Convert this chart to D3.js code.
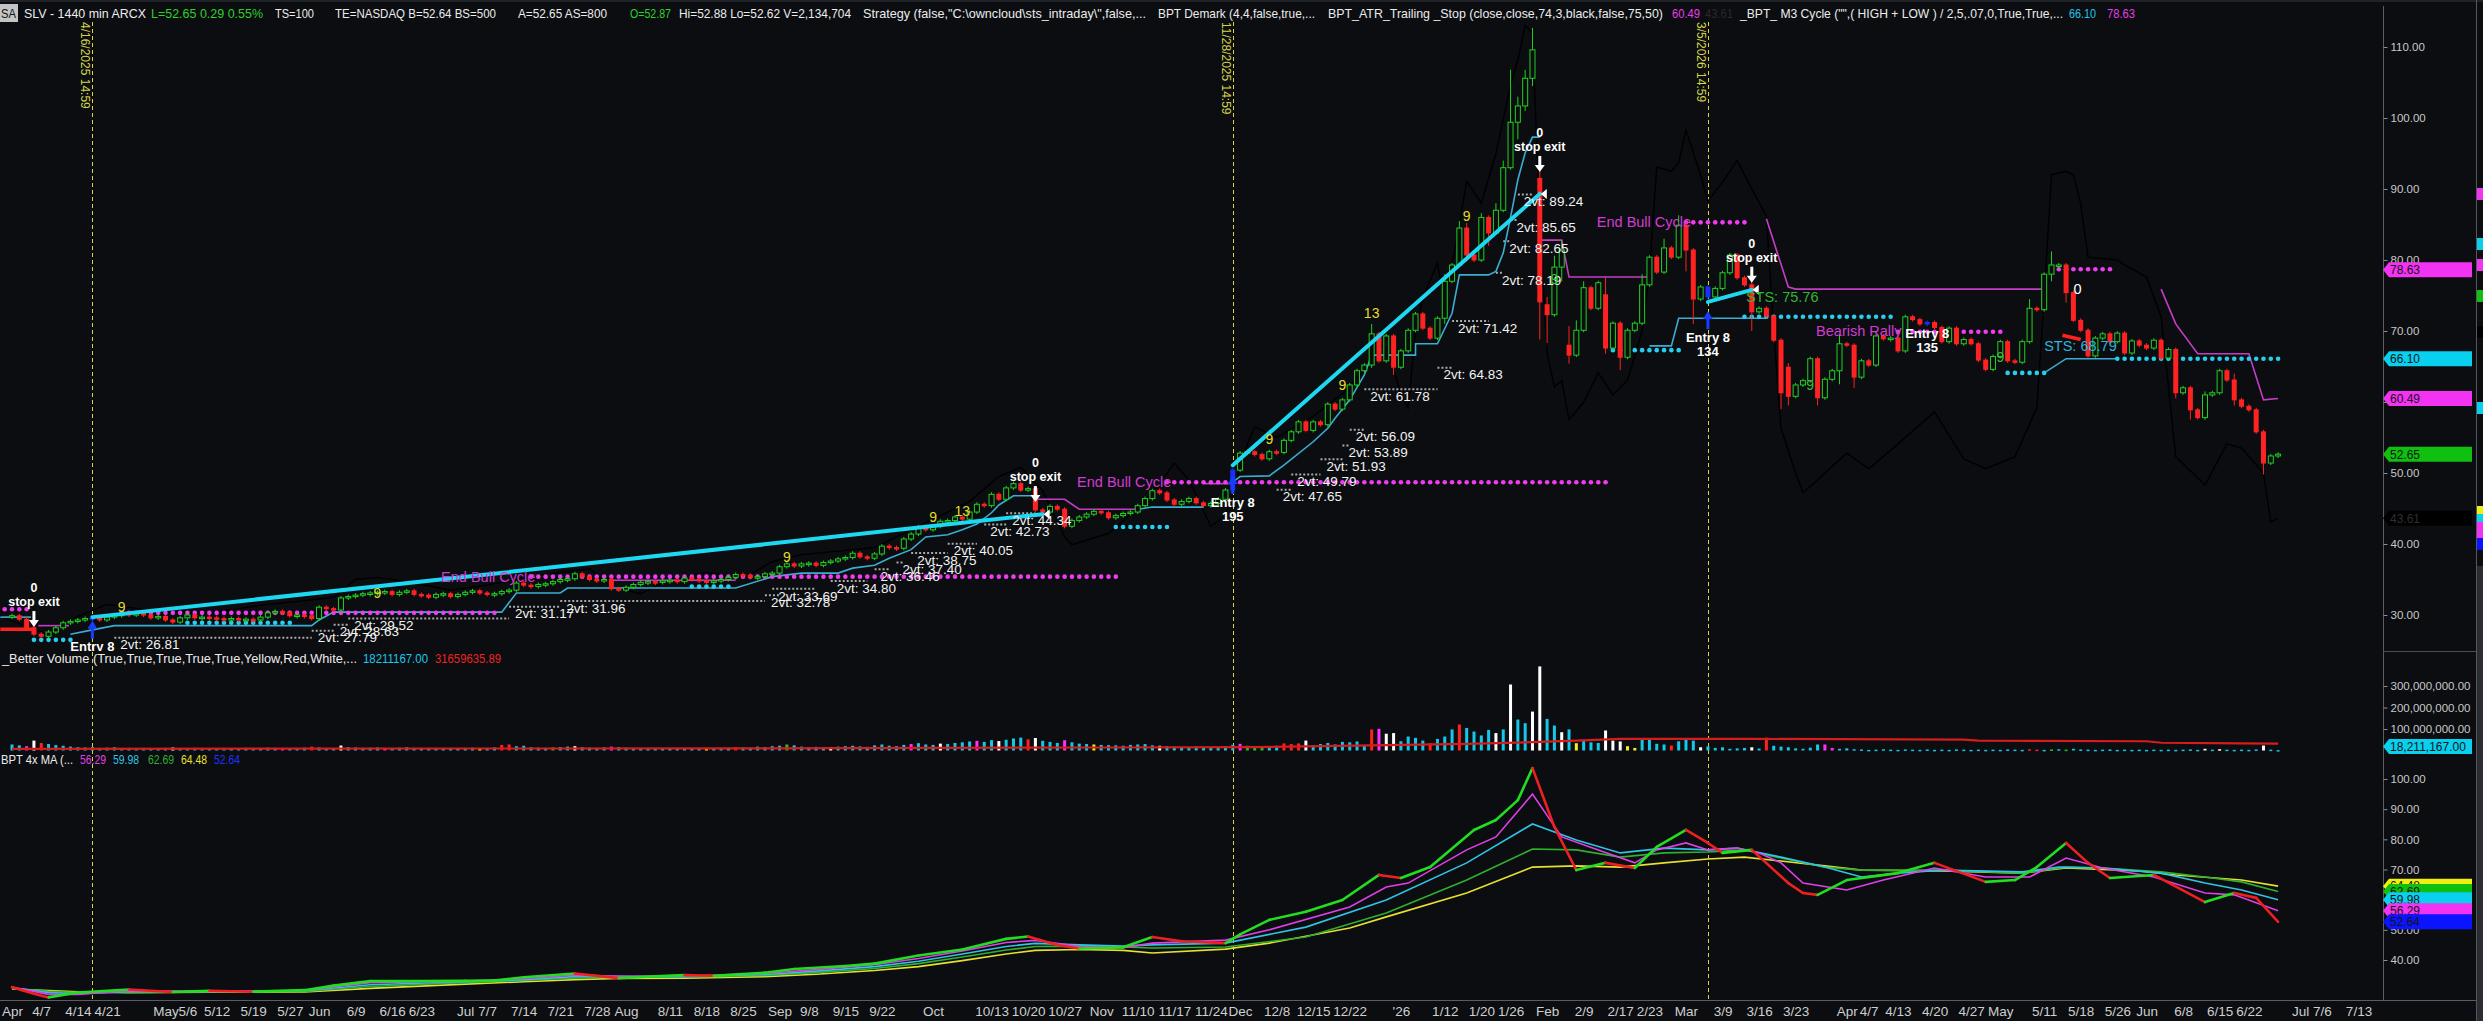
<!DOCTYPE html>
<html><head><meta charset="utf-8">
<script src="https://cdn.jsdelivr.net/npm/d3@7"></script>
<style>
html,body{margin:0;padding:0;background:#0b0d10;overflow:hidden}
svg{display:block}
text{font-family:"Liberation Sans Narrow","Arial Narrow","Liberation Sans",Arial,sans-serif}
</style></head><body>
<svg id="chart" width="2483" height="1021"></svg>
<script>
// ---- data (daily bars, index 0 = 2025-04-01) ----
const closes = [
 29.9,29.4,28.2,27.3,27.0,27.6,28.2,28.9,29.1,29.3,
 29.5,29.6,29.3,29.7,29.9,30.2,30.1,30.2,30.0,29.6,
 29.8,29.3,29.0,29.6,30.0,29.6,29.7,29.6,29.5,29.3,
 29.5,29.3,29.4,29.3,29.7,30.3,30.5,30.4,29.9,30.0,
 29.9,29.5,31.1,30.9,30.7,32.4,32.6,32.8,33.0,33.1,
 33.2,33.3,32.9,33.2,33.4,32.9,32.8,32.5,32.9,33.0,
 32.6,32.9,33.2,33.4,33.1,33.0,33.0,33.3,33.5,34.5,
 34.2,34.0,34.3,34.4,34.7,35.0,35.1,35.8,35.4,35.0,
 34.8,35.0,33.7,33.5,33.9,34.3,34.6,34.7,34.6,34.8,
 34.9,34.7,35.2,35.0,34.8,34.6,34.8,35.0,35.3,35.7,
 35.6,35.3,35.4,35.8,35.9,36.8,37.2,36.9,37.2,37.3,
 37.0,37.4,37.6,37.9,38.1,38.7,38.2,38.0,38.6,39.7,
 39.5,39.4,40.7,41.4,42.4,42.0,42.5,43.2,43.3,43.8,
 43.5,44.5,45.6,45.4,47.0,46.3,47.9,48.5,47.6,47.8,
 44.8,44.5,45.3,44.9,42.5,43.3,43.8,44.2,44.6,44.4,
 43.7,44.0,44.3,44.5,45.4,46.4,47.5,47.2,46.2,45.6,
 46.0,46.4,45.8,45.4,45.7,46.3,47.6,50.4,52.8,53.0,
 52.6,52.0,53.0,52.9,54.6,55.8,57.2,56.0,57.2,56.8,
 59.7,59.0,60.3,62.4,64.4,65.2,69.6,65.8,69.3,64.9,
 67.2,70.1,72.4,70.4,69.0,71.8,77.0,79.3,84.5,80.7,
 80.0,86.0,83.8,87.0,93.0,99.4,101.7,105.6,109.6,74.1,
 72.3,79.0,81.4,66.6,70.1,76.1,73.2,76.8,67.6,71.1,
 66.3,70.1,71.1,76.5,80.4,78.3,81.7,80.4,84.9,81.4,
 74.5,76.2,74.8,76.0,78.2,80.7,77.5,76.5,72.7,73.2,
 72.1,68.7,61.3,60.8,62.4,63.0,66.1,60.6,63.2,64.4,
 68.2,68.0,63.5,65.8,65.2,69.3,68.9,69.0,67.2,72.0,
 71.6,71.0,71.2,70.5,68.5,70.4,68.2,68.8,68.2,65.9,
 64.6,66.4,68.5,65.8,65.6,68.5,73.2,73.0,78.0,79.3,
 79.3,75.4,71.5,70.1,66.5,69.0,69.6,68.5,69.7,66.9,
 68.6,68.0,67.6,68.7,66.2,67.4,61.3,62.0,58.9,57.8,
 61.0,61.3,64.4,63.1,60.3,59.4,58.9,55.8,51.4,52.4,
 52.65
];
// bars whose open gapped away from the prior close
const openGaps = {209:91.5, 210:73.7, 213:68.0, 218:75.1, 243:64.9};
// bars with visible wicks: [high, low]
const hiLo = {186:[71.0,64.8],189:[67.0,63.8],196:[78.0,71.0],198:[85.5,80.0],199:[85.2,79.8],
  201:[86.6,80.5],202:[85.5,82.0],203:[88.0,84.0],204:[94.0,86.8],205:[106.8,96.5],206:[103.0,97.0],
  207:[106.8,101.0],208:[112.7,104.5],209:[92.6,68.8],210:[74.8,68.3],211:[80.6,72.5],212:[82.8,77.0],
  213:[70.7,65.4],214:[71.5,66.5],215:[77.0,71.5],218:[77.5,66.8],220:[68.0,64.5],223:[78.0,71.0],
  226:[83.0,79.5],228:[86.3,80.5],229:[82.6,78.4],230:[78.5,71.0],238:[77.0,70.0],242:[69.0,59.0],
  243:[65.5,59.5],247:[62.5,59.5],250:[69.5,62.5],252:[66.0,62.0],276:[74.5,71.5],279:[81.2,77.0],
  281:[77.5,74.0],296:[67.5,60.5],298:[61.5,57.5],300:[61.5,57.5],304:[64.0,59.5],308:[55.0,49.8]};
const entryBars = [11,167,232,262];

const volumesM = [
 28,24,20,46,35,30,25,22,18,15, 14,16,12,13,15,11,12,10,12,11,
 10,12,14,11,10,12,11,10,9,10, 11,10,12,10,11,13,12,11,10,12,
 13,18,14,12,11,23,15,14,12,13, 14,12,11,13,15,12,11,10,12,11,
 10,11,12,13,11,12,14,26,28,20, 22,15,13,12,14,16,18,20,15,13,
 12,14,18,16,13,12,10,11,9,10, 12,11,10,9,10,11,10,12,13,15,
 14,13,18,16,20,22,28,24,18,16, 17,15,16,18,20,22,19,17,24,28,
 22,20,26,30,34,28,26,32,30,35, 38,42,45,40,48,44,50,56,60,52,
 58,45,40,35,48,38,32,30,28,26, 25,24,22,26,28,30,24,22,20,18,
 17,16,18,15,14,16,20,26,31,22, 18,15,20,22,33,30,33,46,25,30,
 35,28,40,38,42,23,98,101,78,81, 43,65,59,46,34,54,65,98,121,105,
 88,70,96,81,98,307,144,127,181,391, 147,116,85,98,34,46,38,35,93,46,
 42,20,12,54,57,31,28,23,43,57, 46,15,19,12,15,8,10,12,15,9,
 60,22,18,15,10,8,13,28,28,12, 8,10,6,5,3,4,6,4,3,5,
 4,3,5,3,4,3,5,4,3,4, 3,4,3,5,4,3,6,4,3,5,
 6,4,8,5,4,3,4,5,3,4, 3,4,3,4,3,4,3,4,5,3,
 8,4,6,4,3,4,3,5,23,4, 2
];
const volumeColorCodes = [
 "ccmwrccccc","cccccccccc","ccwccccccc","cccccccmcc","crcccwcccc","cmcccccccc",
 "ccccyccrrc","ccccgccwcc","ccmccccccc","cccccycccr","ccccccgccc","ccwccccccc",
 "cccmcccwcc","ccmccwcccr","wcccmcccyc","cccccccwcc","ccccccccmg","ggccrrrwcc",
 "ccccccrmww","ccccrcccrc","cccwcwccww","ccwcycccww","wyyccccrcc","cwccccccwc",
 "rcccccccmm","cccccccccc","cccccccccc","ccccccrrcg","cgcccccccc","cccccccccc",
 "wcwcccccwc","c"
].join("");
const volumeAvgM = [[0,8],[100,10],[150,14],[170,16],[177,19],[199,31],[208,39],[214,46],[220,54],
  [238,54],[267,51],[269,46],[292,43],[294,36],[305,33],[310,31.66]];

// 4x MA panel lines [bar, value]
const maFast = [[0,31.0],[3,28.8],[5,27.6],[9,29.2],[16,30.2],[22,29.4],[27,29.8],[33,29.5],[40,30.0],[44,31.5],
 [49,33.0],[55,33.0],[62,33.1],[66,33.2],[70,34.3],[77,35.5],[83,34.0],[88,34.6],[92,35.0],[96,34.8],[103,35.8],
 [107,37.0],[114,38.0],[118,38.8],[124,41.5],[130,43.5],[136,47.0],[139,47.8],[143,45.0],[146,43.8],[152,44.2],
 [156,47.6],[160,46.2],[166,45.6],[168,48.5],[172,53.3],[177,56.0],[182,59.9],[187,68.2],[190,67.2],[194,70.8],
 [200,83.1],[203,86.4],[206,93.0],[208,103.6],[211,84.1],[214,69.8],[218,72.2],[222,70.5],[225,77.5],[229,83.1],
 [232,78.8],[234,75.5],[238,76.5],[243,65.5],[245,62.2],[247,61.6],[251,66.5],[258,68.8],[263,72.2],[270,65.9],
 [274,66.5],[277,70.8],[281,78.8],[284,72.2],[287,67.2],[293,68.2],[300,59.2],[304,62.2],[307,60.6],[310,52.64]];
const maMagenta = [[0,31.0],[5,28.6],[9,28.6],[16,29.8],[27,29.6],[40,29.9],[49,32.5],[62,33.0],[70,33.8],[77,35.0],
 [83,34.6],[92,34.7],[103,35.5],[110,36.8],[118,38.4],[124,40.5],[130,43.0],[136,45.8],[140,46.5],[146,44.5],
 [152,44.1],[156,45.6],[166,46.6],[172,50.0],[183,57.6],[188,64.2],[191,65.5],[199,76.5],[203,80.8],[208,95.0],
 [212,80.8],[217,76.5],[222,72.2],[225,76.5],[229,78.8],[232,76.5],[236,77.1],[239,75.5],[242,72.2],[245,65.5],
 [251,63.2],[256,66.5],[263,70.5],[270,67.5],[276,67.5],[281,73.8],[286,70.5],[293,67.5],[300,62.2],[304,61.6],[310,56.29]];
const maCyan = [[0,30.8],[5,29.2],[9,28.8],[16,29.5],[27,29.6],[40,29.8],[49,31.8],[62,32.8],[70,33.5],[77,34.5],
 [83,34.6],[92,34.5],[103,35.2],[110,36.3],[118,37.8],[124,39.6],[130,42.0],[136,44.5],[140,45.5],[146,45.0],
 [152,44.6],[156,45.0],[166,45.6],[177,50.9],[188,59.9],[199,72.2],[208,85.1],[214,79.8],[220,75.5],[226,77.1],
 [232,76.5],[236,77.1],[242,74.1],[248,70.8],[253,67.5],[258,68.8],[264,69.8],[275,69.2],[280,70.8],[286,70.5],
 [294,68.8],[300,65.5],[305,63.2],[310,59.98]];
const maGreen = [[0,30.6],[5,29.6],[9,29.2],[16,29.3],[27,29.5],[40,29.6],[49,31.2],[62,32.5],[70,33.2],[77,34.0],
 [83,34.3],[92,34.3],[103,34.9],[110,35.8],[118,37.2],[124,38.8],[130,41.0],[136,43.3],[140,44.5],[146,44.6],
 [152,44.3],[156,44.0],[166,44.3],[177,47.6],[188,55.6],[199,66.5],[208,76.8],[214,76.5],[220,74.1],[226,75.5],
 [232,75.8],[237,76.5],[242,73.8],[248,70.8],[253,69.8],[264,69.8],[275,68.8],[281,70.8],[286,70.5],[294,69.2],
 [300,67.5],[305,65.9],[310,62.69]];
const maYellow = [[0,30.4],[5,29.9],[9,29.5],[16,29.2],[27,29.3],[40,29.4],[49,30.6],[62,32.0],[70,32.8],[77,33.5],
 [83,33.9],[92,34.0],[103,34.5],[110,35.3],[118,36.5],[124,37.8],[130,39.8],[136,42.0],[140,43.2],[146,43.5],
 [152,43.2],[156,42.3],[166,43.6],[172,45.6],[183,50.6],[188,54.3],[199,62.2],[208,70.8],[214,71.2],[220,70.8],
 [226,72.2],[232,73.5],[237,74.1],[242,72.8],[248,71.2],[253,69.8],[264,69.5],[275,68.8],[281,70.5],[291,69.5],
 [296,68.2],[305,66.5],[310,64.48]];

// M3 cycle trace (black) [bar, value]
const cycleLine = [[-2,30.0],[5,27.2],[9,29.8],[13,31.5],[20,30.5],[27,30.3],[35,31.5],[40,32.0],[44,32.5],[47,35.0],
 [50,35.3],[55,34.5],[60,33.5],[65,34.2],[70,35.2],[75,36.0],[79,36.5],[82,34.0],[86,33.0],[90,35.0],[95,36.0],
 [100,35.2],[104,37.5],[108,38.5],[113,39.0],[118,39.5],[122,41.5],[127,44.0],[131,46.0],[135,49.5],[138,50.8],
 [141,47.5],[144,41.0],[145,39.9],[150,41.5],[154,45.0],[157,48.5],[159,51.4],[161,49.0],[164,42.5],[166,44.0],
 [169,54.0],[170,56.5],[173,55.0],[178,58.0],[183,62.0],[186,66.0],[188,68.5],[190,61.0],[191,59.2],[192,70.0],
 [193,74.6],[195,79.6],[196,74.0],[198,85.0],[199,91.1],[201,88.0],[203,95.0],[205,104.6],[206,108.2],[207,113.0],
 [208,112.0],[209,85.0],[210,66.9],[211,62.1],[212,63.0],[213,57.5],[215,60.0],[217,64.1],[219,61.0],[221,63.1],
 [223,70.0],[224,78.2],[225,93.1],[227,92.5],[228,93.7],[229,98.3],[231,92.0],[232,88.3],[234,91.0],[236,94.0],
 [238,90.0],[240,86.2],[241,70.0],[242,56.3],[244,50.0],[245,47.2],[247,49.0],[248,50.0],[251,52.8],[254,50.6],
 [258,54.1],[263,58.6],[267,52.0],[270,50.6],[274,52.3],[277,59.2],[278,75.0],[279,92.0],[281,92.5],[282,92.0],
 [283,87.9],[284,80.4],[288,80.0],[289,79.3],[292,77.6],[294,72.0],[296,52.3],[300,48.3],[303,54.1],[305,53.5],
 [308,50.0],[309,43.1],[310,43.61]];

// trailing stop steps [bar, value]
const stopUp = [
 [[-1.6,29.7],[2.6,29.7]],
 [[8,27.3],[11,27.9],[14,28.5],[41,28.5],[42,29.3],[44,30.4],[67,30.4],[69,33.1],[75,33.1],[76,33.8],[99,33.8],
  [104,35.4],[108,35.9],[113,35.9],[115,36.6],[118,37.0],[120,38.0],[123,39.2],[125,41.0],[128,41.3],[130,42.0],
  [132,42.8],[134,44.4],[135,45.5],[137,46.8],[140,46.8]],
 [[154,44.9],[156,45.2],[163,45.2]],
 [[167,48.7],[168,49.5],[172,49.6],[174,51.1],[178,54.4],[180,56.3],[181,57.7],[183,60.3],[185,63.8],[186,66.6],
  [192,66.6],[192,68.2],[195,68.2],[197,72.5],[198,77.9],[202,77.9],[203,78.4],[204,81.0],[205,86.0],[206,91.3],
  [207,95.1],[208,97.3],[209,97.3]],
 [[224,67.9],[227,67.9],[228,71.8],[240,71.8]],
 [[278,64.1],[281,66.1],[288,66.1]]
];
const stopDown = [
 [[3.6,28.5],[7.8,28.5]],
 [[82,34.9],[99,34.9]],
 [[140,46.3],[144,46.3],[146,44.9],[154,44.9]],
 [[163,48.5],[167,48.5]],
 [[209,82.8],[212,82.8],[213,77.6],[224,77.6]],
 [[240,85.8],[243,76.2],[244,75.9],[278,75.9]],
 [[294,75.9],[296,71.0],[299,66.8],[306,66.8],[308,60.3],[310,60.49]]
];
// dotted levels [value, fromBar, toBar]
const magentaDots = [[30.8,-1,2],[30.3,15,66],[35.4,71,151],[48.7,158,218],[85.3,229,237],[69.9,258,272],[78.7,279,287]];
const cyanDots = [[26.5,3,8],[28.9,24,38],[34.0,93,98],[42.4,151,158],[67.3,219,228],[72.0,237,257],[64.1,273,278],[66.1,288,310]];
// "2vt" targets [value, fromBar, toBar]
const targets = [[26.81,14,41],[27.79,41,44],[28.63,44,46],[29.52,46,68],[31.17,68,75],[31.96,75,103],[32.78,103,105],
 [33.69,104,110],[34.80,112,117],[36.46,118,120],[37.40,121,122],[38.75,123,128],[40.05,128,132],[42.73,133,136],
 [44.34,136,140],[47.65,173,175],[49.79,175,179],[51.93,179,182],[53.89,182,183],[56.09,183,185],[61.78,185,195],
 [64.83,195,197],[71.42,197,202],[78.19,203,204],[82.65,204,205],[85.65,205,206],[89.24,206,208]];
// trend lines [bar0, v0, bar1, v1]
const trendLines = [[11,29.7,141,44.2],[167,51.1,209,89.3],[232,74.1,238,75.8]];
const shortLines = [[-1.6,28.0,3,28.0],[280.5,69.4,283,68.8]];
// signals
const entries = [[11,28.9,"",false],[167,49.3,"195",true],[232,72.5,"134",true],[262,73.0,"135",false]];
const exits = [[3,28.3],[140,45.9],[209,92.4],[238,76.8]];
const counts = [[15,31.1,"9","y"],[50,33.1,"9","y"],[106,38.2,"9","y"],[126,43.8,"9","y"],[130,44.6,"13","y"],
 [172,54.8,"9","y"],[182,62.4,"9","y"],[186,72.5,"13","y"],[199,86.2,"9","y"],[211,77.3,"9","g"],
 [246,62.4,"9","g"],[272,66.3,"9","g"]];
const notes = [[58.7,35.4,"End Bull Cycle","#d23cd2"],[145.7,48.7,"End Bull Cycle","#d23cd2"],
 [216.8,85.4,"End Bull Cycle","#d23cd2"],[246.8,70.0,"Bearish Rally","#d23cd2"],
 [237.2,74.8,"STS: 75.76","#34b434"],[278,67.9,"STS: 68.79","#2cb6dc"],[282,75.9,"0","#ffffff"]];
const eventLines = [[11,"4/16/2025 14:59"],[167,"11/28/2025 14:59"],[232,"3/5/2026 14:59"]];

const priceTicks = [30,40,50,60,70,80,90,100,110];
const volumeTicks = [100e6,200e6,300e6];
const maTicks = [40,50,60,70,80,90,100];
const priceMarkers = [[78.63,"#f233f2"],[66.10,"#08d0ee"],[60.49,"#f233f2"],[52.65,"#10c010"],[43.61,"#000000"]];
const volumeMarkers = [[18211167,"#08d0ee"]];
const maMarkers = [[64.48,"#f0f010"],[62.69,"#10c010"],[59.98,"#08d0ee"],[56.29,"#f233f2"],[52.64,"#0a14ff"]];

const xTickLabels = ["Apr","4/7","4/14","4/21","May","5/6","5/12","5/19","5/27","Jun","6/9","6/16","6/23","Jul","7/7",
 "7/14","7/21","7/28","Aug","8/11","8/18","8/25","Sep","9/8","9/15","9/22","Oct","10/13","10/20","10/27","Nov","11/10",
 "11/17","11/24","Dec","12/8","12/15","12/22","'26","1/12","1/20","1/26","Feb","2/9","2/17","2/23","Mar","3/9","3/16",
 "3/23","Apr","4/7","4/13","4/20","4/27","May","5/11","5/18","5/26","Jun","6/8","6/15","6/22","Jul","7/6","7/13"];
const xTickDates = ["2025-04-01","2025-04-07","2025-04-14","2025-04-21","2025-05-01","2025-05-06","2025-05-12",
 "2025-05-19","2025-05-27","2025-06-02","2025-06-09","2025-06-16","2025-06-23","2025-07-01","2025-07-07","2025-07-14",
 "2025-07-21","2025-07-28","2025-08-01","2025-08-11","2025-08-18","2025-08-25","2025-09-02","2025-09-08","2025-09-15",
 "2025-09-22","2025-10-01","2025-10-13","2025-10-20","2025-10-27","2025-11-03","2025-11-10","2025-11-17","2025-11-24",
 "2025-12-01","2025-12-08","2025-12-15","2025-12-22","2026-01-02","2026-01-12","2026-01-20","2026-01-26","2026-02-02",
 "2026-02-09","2026-02-17","2026-02-23","2026-03-02","2026-03-09","2026-03-16","2026-03-23","2026-04-01","2026-04-07",
 "2026-04-13","2026-04-20","2026-04-27","2026-05-01","2026-05-11","2026-05-18","2026-05-26","2026-06-01","2026-06-08",
 "2026-06-15","2026-06-22","2026-07-01","2026-07-06","2026-07-13"];
const holidays = ["2025-04-18","2025-05-26","2025-06-19","2025-07-04","2025-09-01","2025-11-27","2025-12-25",
 "2026-01-01","2026-01-19","2026-02-16","2026-04-03","2026-05-25","2026-06-19"];

// ---- helpers ----
function barIndex(dateStr) {
  const start = Date.UTC(2025, 3, 1), end = Date.parse(dateStr + "T00:00:00Z");
  let n = 0;
  for (let t = start; t < end; t += 864e5) {
    const d = new Date(t), wd = d.getUTCDay();
    if (wd !== 0 && wd !== 6 && !holidays.includes(d.toISOString().slice(0, 10))) n++;
  }
  return n;
}

const W = 2483, H = 1021, AXIS_X = 2383, BG = "#0b0d10";
const svg = d3.select("#chart");
svg.append("rect").attr("width", W).attr("height", H).attr("fill", BG);
svg.append("rect").attr("width", W).attr("height", 2).attr("fill", "#202328");

const x = d3.scaleLinear().domain([0, 310]).range([12, 12 + 310 * 7.31]);
const yP = d3.scaleLinear().domain([30, 110]).range([615, 47]);
const yV = d3.scaleLinear().domain([0, 300e6]).range([750.5, 686]);
const yM = d3.scaleLinear().domain([40, 100]).range([960, 779]);

const defs = svg.append("defs");
function clip(id, y0, y1) {
  defs.append("clipPath").attr("id", id).append("rect").attr("x", 0).attr("y", y0).attr("width", AXIS_X).attr("height", y1 - y0);
}
clip("cp", 24, 651); clip("cv", 651, 755); clip("cm", 755, 1000);

// ---- event lines ----
const ev = svg.append("g");
eventLines.forEach(([i, lbl]) => {
  const xx = Math.round(x(i)) + 0.5;
  ev.append("line").attr("x1", xx).attr("x2", xx).attr("y1", 22).attr("y2", 1000)
    .attr("stroke", "#d8d83c").attr("stroke-width", 1).attr("stroke-dasharray", "4,3");
  ev.append("text").attr("transform", `translate(${xx - 12},22) rotate(90)`)
    .attr("fill", "#d4d44a").attr("font-size", 12).attr("font-family", "Liberation Sans, sans-serif").text(lbl);
});

// ---- price panel ----
const gp = svg.append("g").attr("clip-path", "url(#cp)");
const lineP = d3.line().x(d => x(d[0])).y(d => yP(d[1]));

gp.append("path").attr("d", lineP(cycleLine)).attr("fill", "none").attr("stroke", "#000").attr("stroke-width", 1.4);

targets.forEach(([v, a, b]) => {
  gp.append("line").attr("x1", x(a)).attr("x2", x(b)).attr("y1", yP(v)).attr("y2", yP(v))
    .attr("stroke", "#a9a9a9").attr("stroke-width", 2).attr("stroke-dasharray", "2,2");
});
stopUp.forEach(seg => gp.append("path").attr("d", lineP(seg)).attr("fill", "none").attr("stroke", "#3aaed2").attr("stroke-width", 1.6));
stopDown.forEach(seg => gp.append("path").attr("d", lineP(seg)).attr("fill", "none").attr("stroke", "#c43ec4").attr("stroke-width", 1.6));

function dots(list, color) {
  list.forEach(([v, a, b]) => {
    gp.selectAll(null).data(d3.range(a, b + 1)).enter().append("circle")
      .attr("cx", d => x(d)).attr("cy", yP(v)).attr("r", 2.3).attr("fill", color);
  });
}
dots(magentaDots, "#f03cf0");
dots(cyanDots, "#26cfee");

// candles
const candles = closes.map((c, i) => {
  const o = openGaps[i] !== undefined ? openGaps[i] : (i ? closes[i - 1] : c);
  const hl = hiLo[i];
  return {i, o, c, h: hl ? hl[0] : Math.max(o, c), l: hl ? hl[1] : Math.min(o, c)};
});
const cg = gp.append("g");
candles.forEach(d => {
  const up = d.c >= d.o;
  const col = entryBars.includes(d.i) ? "#1830ff" : (up ? "#22d022" : "#ff2222");
  const cx = x(d.i);
  const top = yP(Math.max(d.o, d.c)), bot = yP(Math.min(d.o, d.c));
  const bh = Math.max(bot - top, 1.5);
  cg.append("line").attr("x1", cx).attr("x2", cx)
    .attr("y1", Math.min(yP(d.h), top - 2)).attr("y2", Math.max(yP(d.l), top + bh + 2))
    .attr("stroke", col).attr("stroke-width", 1);
  if (up && !entryBars.includes(d.i)) {
    cg.append("rect").attr("x", cx - 2.5).attr("y", top).attr("width", 5).attr("height", bh)
      .attr("fill", BG).attr("stroke", col).attr("stroke-width", 1);
  } else {
    cg.append("rect").attr("x", cx - 2.5).attr("y", top - 0.5).attr("width", 5).attr("height", bh + 1).attr("fill", col);
  }
});

trendLines.forEach(([a, v0, b, v1]) => {
  gp.append("line").attr("x1", x(a)).attr("y1", yP(v0)).attr("x2", x(b)).attr("y2", yP(v1))
    .attr("stroke", "#1ed8f2").attr("stroke-width", 4).attr("stroke-linecap", "round");
  gp.append("path").attr("d", `M${x(b) + 1},${yP(v1)} l6,-5 l0,10 z`).attr("fill", "#fff");
});
shortLines.forEach(([a, v0, b, v1]) => {
  gp.append("line").attr("x1", x(a)).attr("y1", yP(v0)).attr("x2", x(b)).attr("y2", yP(v1))
    .attr("stroke", "#ff2020").attr("stroke-width", 3.5);
});

// text overlays
const tf = "Liberation Sans, Arial, sans-serif";
targets.forEach(([v, a]) => {
  gp.append("text").attr("x", x(a) + 6).attr("y", yP(v) + 7).attr("dy", "0.35em")
    .attr("fill", "#f2f2f2").attr("font-size", 13.5).attr("font-family", tf).text("2vt: " + v.toFixed(2));
});
counts.forEach(([i, v, t, c]) => {
  gp.append("text").attr("x", x(i)).attr("y", yP(v)).attr("dy", "0.35em").attr("text-anchor", "middle")
    .attr("fill", c === "y" ? "#e6dc28" : "#34c034").attr("font-size", 14).attr("font-family", tf).text(t);
});
notes.forEach(([i, v, t, c]) => {
  gp.append("text").attr("x", x(i)).attr("y", yP(v)).attr("dy", "0.35em")
    .attr("fill", c).attr("font-size", 14.5).attr("font-family", tf).text(t);
});
entries.forEach(([i, v, n, arrow]) => {
  const cx = x(i), ty = yP(v);
  if (arrow || i === 11) {
    gp.append("line").attr("x1", cx).attr("x2", cx).attr("y1", ty + 4).attr("y2", ty + 16).attr("stroke", "#1a3cff").attr("stroke-width", 3);
    gp.append("path").attr("d", `M${cx - 5},${ty + 6} L${cx},${ty - 2} L${cx + 5},${ty + 6} Z`).attr("fill", "#1a3cff");
  }
  gp.append("text").attr("x", cx).attr("y", ty + 24).attr("dy", "0.35em").attr("text-anchor", "middle")
    .attr("fill", "#fff").attr("font-weight", "bold").attr("font-size", 13).attr("font-family", tf).text("Entry 8");
  if (n) gp.append("text").attr("x", cx).attr("y", ty + 38).attr("dy", "0.35em").attr("text-anchor", "middle")
    .attr("fill", "#fff").attr("font-weight", "bold").attr("font-size", 13).attr("font-family", tf).text(n);
});
exits.forEach(([i, v]) => {
  const cx = x(i), ty = yP(v);
  gp.append("line").attr("x1", cx).attr("x2", cx).attr("y1", ty - 16).attr("y2", ty - 5).attr("stroke", "#fff").attr("stroke-width", 3);
  gp.append("path").attr("d", `M${cx - 5},${ty - 7} L${cx},${ty} L${cx + 5},${ty - 7} Z`).attr("fill", "#fff");
  gp.append("text").attr("x", cx).attr("y", ty - 39).attr("dy", "0.35em").attr("text-anchor", "middle")
    .attr("fill", "#fff").attr("font-weight", "bold").attr("font-size", 12.5).attr("font-family", tf).text("0");
  gp.append("text").attr("x", cx).attr("y", ty - 25).attr("dy", "0.35em").attr("text-anchor", "middle")
    .attr("fill", "#fff").attr("font-weight", "bold").attr("font-size", 12.5).attr("font-family", tf).text("stop exit");
});

// ---- volume panel ----
const gv = svg.append("g").attr("clip-path", "url(#cv)");
const volColor = {c: "#14c8ea", w: "#ffffff", r: "#ff2020", m: "#ff30ff", g: "#22c022", y: "#f0f020"};
volumesM.forEach((v, i) => {
  const y0 = yV(0), y1 = yV(v * 1e6);
  gv.append("rect").attr("x", x(i) - 1.5).attr("width", 3).attr("y", y1).attr("height", Math.max(y0 - y1, 1.5))
    .attr("fill", volColor[volumeColorCodes[i]]);
});
gv.append("path").attr("d", d3.line().x(d => x(d[0])).y(d => yV(d[1] * 1e6))(volumeAvgM))
  .attr("fill", "none").attr("stroke", "#d61c1c").attr("stroke-width", 2.2);

// ---- MA panel ----
const gm = svg.append("g").attr("clip-path", "url(#cm)");
const lineM = d3.line().x(d => x(d[0])).y(d => yM(d[1]));
[[maYellow, "#e6e030", 1.6], [maGreen, "#2fb02f", 1.6], [maCyan, "#30c4e4", 1.6], [maMagenta, "#e040e6", 1.6]]
  .forEach(([pts, c, w]) => gm.append("path").attr("d", lineM(pts)).attr("fill", "none").attr("stroke", c).attr("stroke-width", w));
for (let k = 1; k < maFast.length; k++) {
  const a = maFast[k - 1], b = maFast[k];
  gm.append("path").attr("d", lineM([a, b])).attr("fill", "none")
    .attr("stroke", b[1] >= a[1] ? "#22dd22" : "#ee2020").attr("stroke-width", 2.6).attr("stroke-linecap", "round");
}

// ---- legends / header ----
function seg(g, txt, x0, len, color, y, size) {
  g.append("text").attr("x", x0).attr("y", y).attr("fill", color).attr("font-size", size || 13.5)
    .attr("textLength", len).attr("lengthAdjust", "spacingAndGlyphs").text(txt);
}
const hd = svg.append("g");
hd.append("rect").attr("x", 0).attr("y", 4).attr("width", 18).attr("height", 18).attr("fill", "#c4c4c4");
seg(hd, "SA", 1, 15, "#111", 18);
seg(hd, "SLV - 1440 min  ARCX", 24, 122, "#ececec", 18);
seg(hd, "L=52.65  0.29   0.55%", 151, 112, "#2ed12e", 18);
seg(hd, "TS=100", 275, 39, "#ececec", 18);
seg(hd, "TE=NASDAQ  B=52.64  BS=500", 335, 161, "#ececec", 18);
seg(hd, "A=52.65  AS=800", 518, 89, "#ececec", 18);
seg(hd, "O=52.87", 630, 41, "#2ed12e", 18);
seg(hd, "Hi=52.88  Lo=52.62  V=2,134,704", 679, 172, "#ececec", 18);
seg(hd, "Strategy (false,\"C:\\owncloud\\sts_intraday\\\",false,...", 863, 283, "#ececec", 18);
seg(hd, "BPT Demark (4,4,false,true,...", 1158, 157, "#ececec", 18);
seg(hd, "BPT_ATR_Trailing _Stop (close,close,74,3,black,false,75,50)", 1328, 335, "#ececec", 18);
seg(hd, "60.49", 1672, 28, "#e83ce8", 18);
seg(hd, "43.61", 1705, 28, "#2a2a2a", 18);
seg(hd, "_BPT_ M3 Cycle (\"\",( HIGH + LOW ) / 2,5,.07,0,True,True,...", 1740, 323, "#ececec", 18);
seg(hd, "66.10", 2069, 27, "#1ec8ea", 18);
seg(hd, "78.63", 2107, 28, "#e83ce8", 18);

seg(hd, "_Better Volume (True,True,True,True,True,Yellow,Red,White,...", 2, 355, "#ececec", 663);
seg(hd, "18211167.00", 363, 65, "#1ec8ea", 663);
seg(hd, "31659635.89", 435, 66, "#ee2424", 663);
seg(hd, "BPT 4x MA (...", 1, 72, "#ececec", 764);
seg(hd, "56.29", 80, 26, "#e040e6", 764);
seg(hd, "59.98", 113, 26, "#30c4e4", 764);
seg(hd, "62.69", 148, 26, "#2fb02f", 764);
seg(hd, "64.48", 181, 26, "#e6e030", 764);
seg(hd, "52.64", 214, 26, "#2030ff", 764);

// ---- axes ----
const axG = svg.append("g");
axG.append("line").attr("x1", AXIS_X + 0.5).attr("x2", AXIS_X + 0.5).attr("y1", 6).attr("y2", 1000).attr("stroke", "#5a5d62");
axG.append("line").attr("x1", 0).attr("x2", W).attr("y1", 1000.5).attr("y2", 1000.5).attr("stroke", "#5a5d62");
axG.append("line").attr("x1", AXIS_X).attr("x2", 2476).attr("y1", 651.5).attr("y2", 651.5).attr("stroke", "#4a4d52");

function rightAxis(scale, ticks, fmt) {
  const g = axG.append("g").attr("transform", `translate(${AXIS_X + 0.5},0)`)
    .call(d3.axisRight(scale).tickValues(ticks).tickFormat(fmt).tickSize(4).tickPadding(3));
  g.select(".domain").remove();
  g.selectAll(".tick line").attr("stroke", "#8a8d92");
  g.selectAll("text").attr("fill", "#c9c9c9").attr("font-size", 11.5).attr("font-family", "Liberation Sans, Arial, sans-serif");
}
rightAxis(yP, priceTicks, d3.format(".2f"));
rightAxis(yV, volumeTicks, d3.format(",.2f"));
rightAxis(yM, maTicks, d3.format(".2f"));

function markers(list, scale, fmt) {
  list.forEach(([v, c]) => {
    const yy = scale(v);
    axG.append("path").attr("d", `M${AXIS_X},${yy} L${AXIS_X + 6},${yy - 7.5} L2472,${yy - 7.5} L2472,${yy + 7.5} L${AXIS_X + 6},${yy + 7.5} Z`)
      .attr("fill", c);
    axG.append("text").attr("x", AXIS_X + 7).attr("y", yy).attr("dy", "0.36em").attr("font-size", 12)
      .attr("font-family", "Liberation Sans, Arial, sans-serif")
      .attr("fill", c === "#000000" ? "#2e2e2e" : "#141414").text(fmt(v));
  });
}
markers(priceMarkers, yP, d3.format(".2f"));
markers(volumeMarkers, yV, d3.format(",.2f"));
markers(maMarkers, yM, d3.format(".2f"));

const xIdx = xTickDates.map(barIndex);
const bx = axG.append("g").attr("transform", "translate(0,1000.5)")
  .call(d3.axisBottom(x).tickValues(xIdx).tickFormat((d, k) => xTickLabels[k]).tickSize(0).tickPadding(6));
bx.select(".domain").remove();
bx.selectAll("text").attr("fill", "#cfcfcf").attr("font-size", 13.5);

// neighbouring pane sliver at the far right
const sl = svg.append("g");
sl.append("line").attr("x1", 2476.5).attr("x2", 2476.5).attr("y1", 0).attr("y2", H).attr("stroke", "#55585d");
sl.append("rect").attr("x", 2477).attr("y", 566).attr("width", 6).attr("height", 455).attr("fill", "#2a2d31");
[[188, "#f233f2"], [238, "#08d0ee"], [259, "#f233f2"], [290, "#10c010"], [326, "#000"], [402, "#08d0ee"],
 [506, "#f0f010"], [514, "#08d0ee"], [522, "#f233f2"], [530, "#f233f2"], [538, "#0a14ff"]]
  .forEach(([yy, c]) => sl.append("rect").attr("x", 2477).attr("y", yy).attr("width", 6).attr("height", 12).attr("fill", c));
</script></body></html>
